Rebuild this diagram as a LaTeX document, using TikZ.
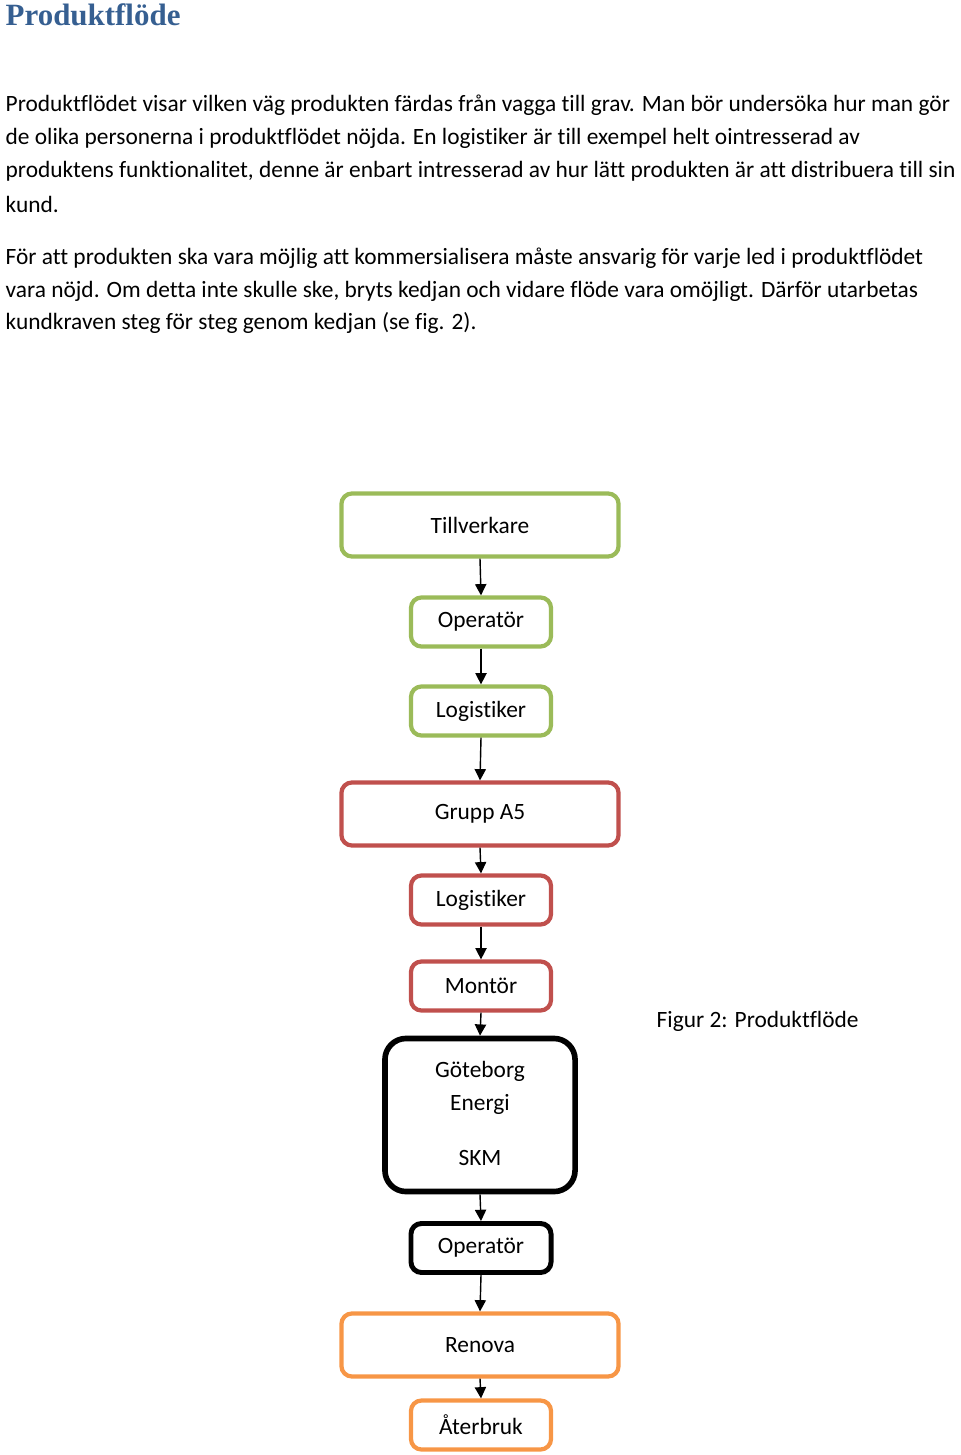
\documentclass[tikz,border=0pt]{standalone}
\usepackage{fontspec}
\setmainfont[Ligatures=NoCommon]{Carlito}
\newfontfamily\headfont{Liberation Serif}
\usetikzlibrary{arrows.meta}
\definecolor{headblue}{HTML}{365F91}
\definecolor{boxgreen}{HTML}{9BBB59}
\definecolor{boxred}{HTML}{C0504D}
\definecolor{boxorange}{HTML}{F79646}

\begin{document}
\begin{tikzpicture}[x=0.01cm, y=-0.01cm,
    every node/.style={font=\fontsize{6.65}{9.4}\selectfont, inner sep=0pt},
    line/.style={anchor=west},
    flowbox/.style={draw, rounded corners=3pt, line width=1.2pt, align=center},
    wide/.style={minimum width=2.77cm, minimum height=0.63cm},
    small/.style={minimum width=1.4cm, minimum height=0.49cm},
    flowarrow/.style={-{Triangle[length=3.2pt, width=3.2pt]}, thin}
 ]
\useasboundingbox (0,0) rectangle (960,1455);
\node[anchor=west, font=\headfont\bfseries\fontsize{8.8}{10}\selectfont, text=headblue] (H) at (5,15) {Produktflöde};

\node[line] (L1) at (5,105) {Produktflödet visar vilken väg produkten färdas från vagga till grav. Man bör undersöka hur man gör};
\node[line] (L2) at (5,138) {de olika personerna i produktflödet nöjda. En logistiker är till exempel helt ointresserad av};
\node[line] (L3) at (5,171) {produktens funktionalitet, denne är enbart intresserad av hur lätt produkten är att distribuera till sin};
\node[line] (L4) at (5,204) {kund.};
\node[line] (L5) at (5,258) {För att produkten ska vara möjlig att kommersialisera måste ansvarig för varje led i produktflödet};
\node[line] (L6) at (5,291) {vara nöjd. Om detta inte skulle ske, bryts kedjan och vidare flöde vara omöjligt. Därför utarbetas};
\node[line] (L7) at (5,323) {kundkraven steg för steg genom kedjan (se fig. 2).};

% boxes
\node[flowbox, draw=boxgreen, wide] (Till) at (480,525) {Tillverkare};
\node[flowbox, draw=boxgreen, small] (Op1) at (481,622) {Operatör};
\node[flowbox, draw=boxgreen, small] (Log1) at (481,711) {Logistiker};
\node[flowbox, draw=boxred, wide] (Grupp) at (480,814) {Grupp A5};
\node[flowbox, draw=boxred, small] (Log2) at (481,900) {Logistiker};
\node[flowbox, draw=boxred, small] (Mont) at (481,986) {Montör};
\node[flowbox, draw=black, line width=1.6pt, rounded corners=6pt, minimum width=1.9cm, minimum height=1.53cm] (GE) at (480,1115) {};
\node (GE1) at (480,1071) {Göteborg};
\node (GE2) at (480,1104) {Energi};
\node (GE3) at (480,1158) {SKM};
\node[flowbox, draw=black, line width=1.4pt, small] (Op2) at (481,1248) {Operatör};
\node[flowbox, draw=boxorange, wide] (Ren) at (480,1345) {Renova};
\node[flowbox, draw=boxorange, small] (Ater) at (481,1425) {Återbruk};

\node[anchor=west] (Cap) at (656,1021) {Figur 2: Produktflöde};

% arrows
\draw[flowarrow] (Till.south) -- (Op1.north);
\draw[flowarrow] (Op1.south) -- (Log1.north);
\draw[flowarrow] (Log1.south) -- (Grupp.north);
\draw[flowarrow] (Grupp.south) -- (Log2.north);
\draw[flowarrow] (Log2.south) -- (Mont.north);
\draw[flowarrow] (Mont.south) -- (GE.north);
\draw[flowarrow] (GE.south) -- (Op2.north);
\draw[flowarrow] (Op2.south) -- (Ren.north);
\draw[flowarrow] (Ren.south) -- (Ater.north);
\end{tikzpicture}
\end{document}
